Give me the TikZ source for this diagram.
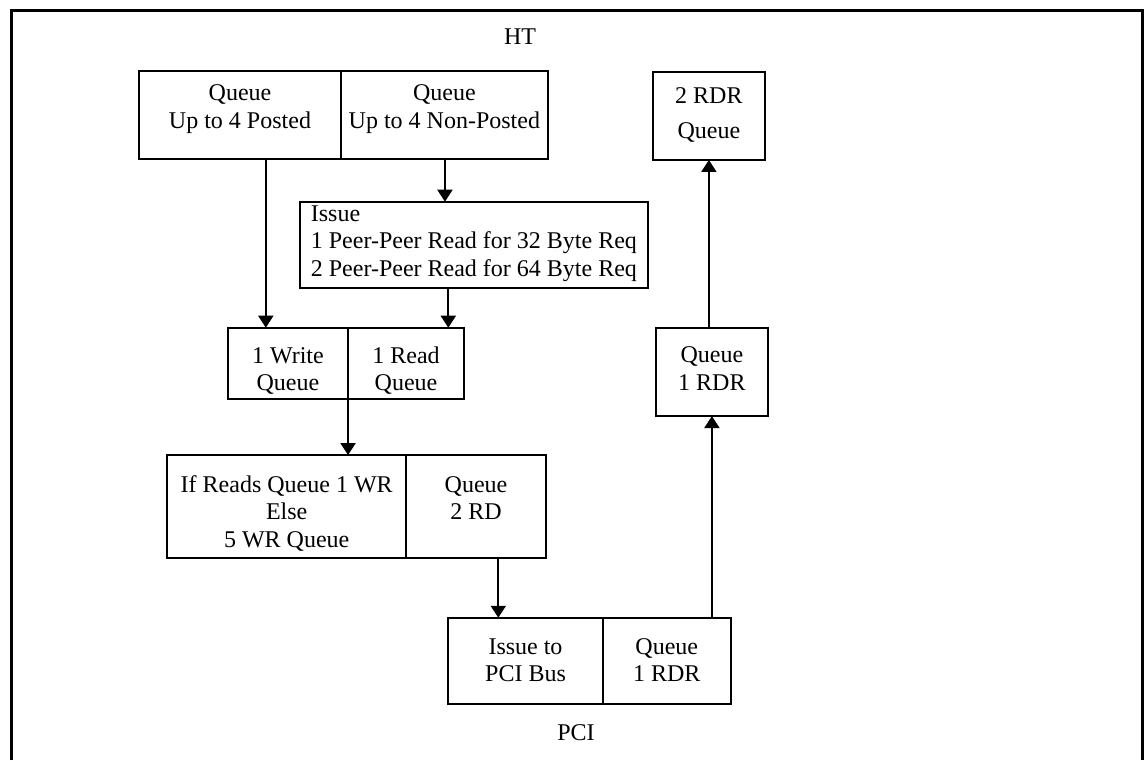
\documentclass[tikz,border=0pt]{standalone}
\usepackage{fontspec}
\setmainfont{Liberation Serif}
\usepackage{tikz}
\usetikzlibrary{arrows.meta, positioning}
\tikzset{
  >={Triangle[length=6pt,width=7.5pt]},
  % Cells of the queue boxes
  cell/.style={draw,line width=1pt,outer sep=0pt,inner sep=0pt,align=center,
    text depth=3pt,font=\fontsize{12pt}{13.6pt}\selectfont},
  lbl/.style={anchor=base,font=\fontsize{12pt}{13.6pt}\selectfont},
  % Connectors
  flow/.style={->,line width=1pt},
  frame/.style={line width=1.5pt}
}

\begin{document}
\begin{tikzpicture}[x=0.5pt,y=-0.5pt]
    \useasboundingbox (0,0) rectangle (1144,760);
    % Outer frame, open at the bottom
    \draw[frame] (11,760) -- (11,10) -- (1142.5,10) -- (1142.5,760);
    \node[lbl] (ht) at (520,44) {HT};
    \node[lbl] (pci) at (576,740) {PCI};
    % HT side queues
    \node[cell,minimum width=100.7pt,minimum height=43.9pt,text height=16.4pt]
      (posted) at (240,114.6) {Queue\\Up to 4 Posted};
    \node[cell,minimum width=103.65pt,minimum height=43.9pt,text height=16.4pt]
      (npq) at (444.35,114.6) {Queue\\Up to 4 Non-Posted};
    \node[cell,minimum width=56.15pt,minimum height=44.15pt,text height=25.2pt,
      font=\fontsize{12pt}{17.5pt}\selectfont]
      (rdr2) at (708.9,115.8) {2 RDR\\Queue};
    \node[cell,align=left,minimum width=174.15pt,minimum height=43pt,text height=34.3pt]
      (issue) at (473.9,244.7)
      {Issue\\1 Peer-Peer Read for 32 Byte Req\\2 Peer-Peer Read for 64 Byte Req};
    \node[cell,minimum width=60.15pt,minimum height=35.8pt,text height=30.2pt]
      (wq) at (287.9,363.5) {1 Write\\Queue};
    \node[cell,minimum width=58pt,minimum height=35.8pt,text height=30.2pt]
      (rq) at (406,363.5) {1 Read\\Queue};
    \node[cell,minimum width=56.15pt,minimum height=44.15pt,text height=21.1pt]
      (q1rdr) at (711.9,371.9) {Queue\\1 RDR};
    % PCI side queues
    \node[cell,minimum width=119.35pt,minimum height=51.65pt,text height=43.3pt]
      (ifr) at (286.7,506.7) {If Reads Queue 1 WR\\Else\\5 WR Queue};
    \node[cell,minimum width=70pt,minimum height=51.65pt,text height=15.6pt]
      (q2rd) at (476,506.7) {Queue\\2 RD};
    \node[cell,minimum width=77.5pt,minimum height=43.15pt,text height=23.8pt]
      (pcib) at (525.5,660.9) {Issue to\\PCI Bus};
    \node[cell,minimum width=63.75pt,minimum height=43.15pt,text height=23.8pt]
      (pciq) at (666.75,660.9) {Queue\\1 RDR};
    % Flow of requests
    \draw[flow] ([xshift=12.9pt]posted.south) coordinate (f1) -- (f1 |- wq.north);
    \draw[flow] ([xshift=0.3pt]npq.south) coordinate (f2) -- (f2 |- issue.north);
    \draw[flow] ([xshift=-12.8pt]issue.south) coordinate (f3) -- (f3 |- rq.north);
    \draw[flow] (wq.south east) -- (wq.south east |- ifr.north);
    \draw[flow] ([xshift=11.15pt]q2rd.south) coordinate (f5) -- (f5 |- pcib.north);
    % Read responses
    \draw[flow] (q1rdr.south |- pciq.north) -- (q1rdr.south);
    \draw[flow] (q1rdr.north -| rdr2.south) -- (rdr2.south);
\end{tikzpicture}
\end{document}
